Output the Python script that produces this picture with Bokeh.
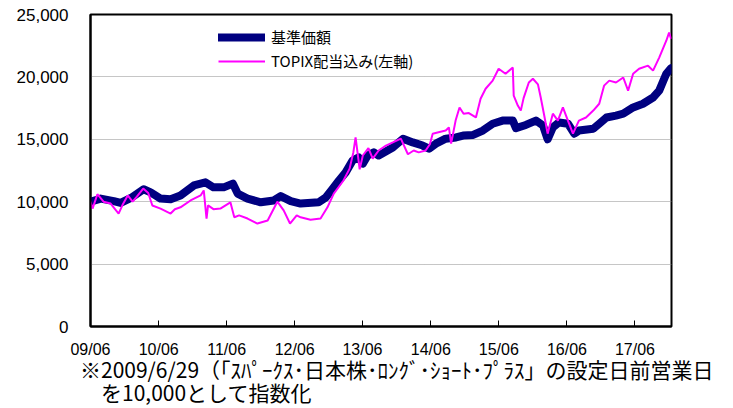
import pandas as pd
from bokeh.plotting import figure
from bokeh.layouts import column
from bokeh.models import (FixedTicker, DatetimeTickFormatter, NumeralTickFormatter,
                          Range1d, Div, Legend, LegendItem, ColumnDataSource)
from bokeh.embed import file_html
from bokeh.resources import INLINE

# ---- data ----
nav_dates = ["2009-06-29", "2009-08-23", "2009-11-01", "2009-12-08", "2010-02-01", "2010-04-10",
             "2010-05-18", "2010-07-10", "2010-09-02", "2010-10-25", "2011-01-05", "2011-03-08",
             "2011-04-20", "2011-06-14", "2011-08-02", "2011-08-28", "2011-10-20", "2011-12-30",
             "2012-03-09", "2012-04-15", "2012-06-08", "2012-07-31", "2012-11-05", "2012-12-14",
             "2013-01-20", "2013-02-22", "2013-03-30", "2013-05-06", "2013-06-08", "2013-06-30",
             "2013-07-26", "2013-08-28", "2013-09-23", "2013-12-08", "2014-02-01", "2014-03-25",
             "2014-05-17", "2014-06-20", "2014-07-27", "2014-09-18", "2014-11-12", "2014-12-20",
             "2015-02-12", "2015-04-05", "2015-05-28", "2015-07-20", "2015-09-13", "2015-09-30",
             "2015-11-22", "2016-01-15", "2016-02-22", "2016-03-18", "2016-04-15", "2016-05-18",
             "2016-07-05", "2016-08-08", "2016-09-02", "2016-11-18", "2016-12-20", "2017-01-28",
             "2017-03-20", "2017-04-28", "2017-06-20", "2017-08-12", "2017-10-05", "2017-11-07",
             "2017-12-15", "2018-01-10"]
nav_values = [10000, 10250, 10050, 9900, 10300, 11000,
              10750, 10250, 10200, 10500, 11300, 11550,
              11150, 11150, 11450, 10650, 10250, 9950,
              10100, 10450, 10050, 9850, 9950, 10350,
              11050, 11700, 12350, 13300, 13550, 13050,
              13700, 13950, 13700, 14350, 15050, 14750,
              14500, 14250, 14650, 15050, 15150, 15300,
              15350, 15700, 16250, 16500, 16500, 15900,
              16150, 16500, 16100, 15000, 15950, 16350,
              16250, 15450, 15700, 15850, 16250, 16750,
              16900, 17050, 17550, 17850, 18350, 18900,
              20250, 20700]

topix_dates = ["2009-06-29", "2009-07-10", "2009-08-05", "2009-09-07", "2009-10-15", "2009-11-27",
               "2009-12-20", "2010-01-15", "2010-02-10", "2010-03-05", "2010-04-08", "2010-05-05",
               "2010-05-27", "2010-07-10", "2010-09-02", "2010-09-25", "2010-10-25", "2010-12-18",
               "2011-02-10", "2011-02-27", "2011-03-14", "2011-03-22", "2011-04-20", "2011-05-27",
               "2011-07-20", "2011-08-10", "2011-09-05", "2011-10-20", "2011-12-12", "2012-02-05",
               "2012-03-28", "2012-05-01", "2012-06-04", "2012-07-10", "2012-07-31", "2012-09-22",
               "2012-11-15", "2012-12-22", "2013-01-25", "2013-03-18", "2013-04-20", "2013-05-10",
               "2013-05-22", "2013-06-13", "2013-06-30", "2013-07-30", "2013-08-22", "2013-09-23",
               "2013-11-01", "2013-12-08", "2014-01-20", "2014-02-27", "2014-03-30", "2014-04-26",
               "2014-06-02", "2014-06-25", "2014-07-10", "2014-08-05", "2014-09-18", "2014-10-05",
               "2014-10-17", "2014-11-10", "2014-12-01", "2014-12-23", "2015-01-20", "2015-02-27",
               "2015-03-24", "2015-04-20", "2015-05-28", "2015-06-29", "2015-08-05", "2015-09-13",
               "2015-09-18", "2015-10-10", "2015-10-26", "2015-11-10", "2015-12-08", "2015-12-30",
               "2016-01-26", "2016-02-10", "2016-02-27", "2016-03-18", "2016-04-15", "2016-05-12",
               "2016-06-08", "2016-07-05", "2016-08-01", "2016-09-02", "2016-10-10", "2016-11-18",
               "2016-12-20", "2017-01-15", "2017-02-12", "2017-03-20", "2017-04-28", "2017-05-24",
               "2017-06-20", "2017-07-22", "2017-09-08", "2017-10-05", "2017-11-07", "2017-12-15",
               "2017-12-30", "2018-01-10"]
topix_values = [10000, 9450, 10600, 10000, 9850, 9050,
                9800, 10500, 10000, 10400, 11050, 10700,
                9700, 9450, 9050, 9400, 9550, 10100,
                10500, 10900, 8650, 9700, 9400, 9450,
                9950, 8750, 8900, 8650, 8250, 8500,
                10000, 9300, 8250, 8900, 8750, 8550,
                8650, 9550, 10650, 11700, 12650, 13950,
                15150, 12600, 13700, 14300, 13450, 14100,
                14500, 14750, 15050, 13800, 14100, 13950,
                14100, 14600, 15450, 15550, 15700, 15950,
                14650, 16500, 17550, 17050, 17100, 16750,
                18250, 19050, 19700, 20650, 20250, 20750,
                18500, 17700, 17300, 18300, 19550, 19850,
                19400, 18350, 17050, 15450, 17050, 16500,
                17550, 16500, 15450, 16500, 16750, 17300,
                17850, 19300, 19700, 19550, 19950, 18900,
                20250, 20650, 20900, 20500, 21550, 22900,
                23550, 23050]

tick_dates = ["2009-06-29", "2010-06-30", "2011-06-30", "2012-06-29", "2013-06-28",
              "2014-06-30", "2015-06-30", "2016-06-30", "2017-06-30"]
y_ticks = [0, 5000, 10000, 15000, 20000, 25000]

series_names = ["基準価額", "TOPIX配当込み(左軸)"]
caption_lines = ["※2009/6/29（「ｽﾊﾟｰｸｽ･日本株･ﾛﾝｸﾞ･ｼｮｰﾄ･ﾌﾟﾗｽ」の設定日前営業日",
                 "　を10,000として指数化"]

# ---- figure ----
nav_src = ColumnDataSource(dict(x=pd.to_datetime(nav_dates), y=nav_values))
tpx_src = ColumnDataSource(dict(x=pd.to_datetime(topix_dates), y=topix_values))

p = figure(width=725, height=360, x_axis_type="datetime", output_backend="svg",
           toolbar_location=None, tools="",
           x_range=Range1d(pd.Timestamp("2009-06-29"), pd.Timestamp("2018-01-12")),
           y_range=Range1d(0, 25000))
p.min_border_left = 90
p.min_border_right = 54
p.min_border_top = 14
p.min_border_bottom = 34
p.background_fill_color = "white"
p.border_fill_color = "white"
p.outline_line_color = "black"
p.outline_line_width = 2

r_nav = p.line("x", "y", source=nav_src, line_color="#000080", line_width=8,
               line_join="round", line_cap="round")
r_tpx = p.line("x", "y", source=tpx_src, line_color="#FF00FF", line_width=2)

# axes
p.xaxis.ticker = FixedTicker(ticks=[pd.Timestamp(d).value / 1e6 for d in tick_dates])
p.xaxis.formatter = DatetimeTickFormatter(days="%y/%m", months="%y/%m", years="%y/%m")
p.xaxis.major_tick_in = 6
p.xaxis.major_tick_out = 0
p.xaxis.minor_tick_line_color = None
p.xaxis.axis_line_width = 2
p.xaxis.axis_line_color = "black"
p.xaxis.major_tick_line_color = "black"
p.xaxis.major_label_text_font = "Liberation Sans"
p.xaxis.major_label_text_font_size = "16px"
p.xaxis.major_label_text_color = "black"
p.xaxis.major_label_standoff = 14

p.yaxis.ticker = FixedTicker(ticks=y_ticks)
p.yaxis.formatter = NumeralTickFormatter(format="0,0")
p.yaxis.major_tick_in = 0
p.yaxis.major_tick_out = 0
p.yaxis.minor_tick_line_color = None
p.yaxis.axis_line_width = 2
p.yaxis.axis_line_color = "black"
p.yaxis.major_label_text_font = "Liberation Sans"
p.yaxis.major_label_text_font_size = "17px"
p.yaxis.major_label_text_color = "black"
p.yaxis.major_label_standoff = 22

p.xgrid.grid_line_color = None
p.ygrid.grid_line_color = "#8c8c8c"
p.ygrid.grid_line_dash = "1 1"
p.ygrid.grid_line_width = 1

# legend
legend = Legend(items=[LegendItem(label=series_names[0], renderers=[r_nav]),
                       LegendItem(label=series_names[1], renderers=[r_tpx])],
                location=(128, 255), orientation="vertical")
legend.background_fill_alpha = 0
legend.border_line_color = None
legend.padding = 0
legend.margin = 0
legend.spacing = 3
legend.glyph_width = 47
legend.glyph_height = 20
legend.label_standoff = 6
legend.label_text_font = "Noto Sans CJK JP"
legend.label_text_font_size = "15px"
legend.label_text_color = "black"
p.add_layout(legend)

# caption (two lines) below the chart
caption_html = ('<div style="margin:-2px 0 0 80px; font-family:\'Noto Sans CJK JP\'; '
                'font-size:21px; line-height:23px; color:black; white-space:nowrap;">'
                + "<br>".join(caption_lines) + "</div>")
cap = Div(text=caption_html, width=725, height=48, margin=(0, 0, 0, 0))

layout = column(p, cap, spacing=0)
open("out.html", "w").write(file_html(layout, INLINE))
